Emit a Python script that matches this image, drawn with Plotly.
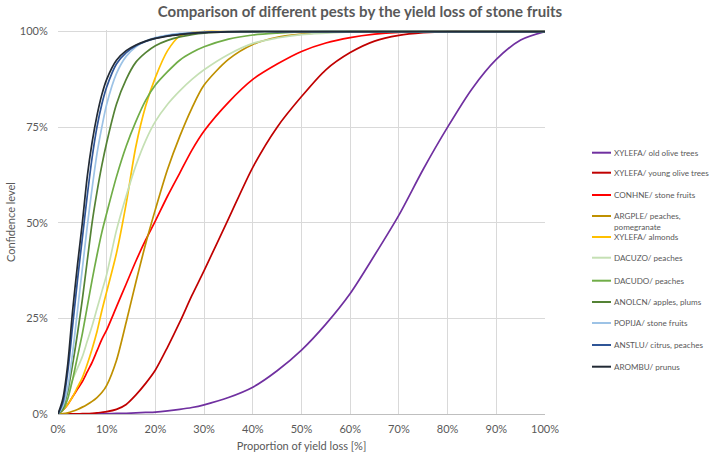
import plotly.graph_objects as go

# Proportion of yield loss [%] (shared x grid)
x_loss = [0, 1, 2, 3, 4, 5, 6, 7, 8, 9, 10, 12, 14, 16, 18, 20, 22.5, 25, 27.5, 30,
          35, 40, 45, 50, 55, 60, 65, 70, 75, 80, 85, 90, 95, 100]

# Confidence level [%] per pest
xylefa_old = [0, 0, 0, 0, 0, 0, 0.02, 0.04, 0.06, 0.08, 0.1, 0.15, 0.2, 0.3, 0.4, 0.5, 0.8, 1.2, 1.7, 2.4,
              4.3, 7, 11.3, 16.7, 23.5, 31.5, 41.5, 52, 64, 75, 85, 92.7, 97.8, 100]
xylefa_young = [0, 0, 0, 0.02, 0.04, 0.08, 0.12, 0.2, 0.3, 0.45, 0.6, 1.2, 2.5, 5, 8, 11.5, 17.5, 24, 31, 37.5,
                51, 64.5, 75, 83, 90, 94.5, 97.5, 99, 99.7, 100, 100, 100, 100, 100]
conhne = [0, 1, 2.5, 4.5, 6.5, 8.5, 11, 13.5, 16.5, 19.5, 22, 28, 34, 40, 45.5, 50.5, 57, 63, 69, 74,
          81.5, 87.5, 91.5, 94.8, 97, 98.4, 99.3, 99.8, 100, 100, 100, 100, 100, 100]
argple = [0, 0.1, 0.3, 0.7, 1.2, 1.8, 2.5, 3.3, 4.3, 5.6, 7.5, 14, 24, 34.5, 44.5, 53.5, 64, 72.6, 80, 86,
          92.7, 96.6, 98.5, 99.3, 99.8, 100, 100, 100, 100, 100, 100, 100, 100, 100]
xylefa_almonds = [0, 1, 2.5, 4.5, 7, 9.5, 13, 17, 21.5, 27, 32, 42, 55, 70, 80.5, 88, 95, 98.8, 99.7, 100,
                  100, 100, 100, 100, 100, 100, 100, 100, 100, 100, 100, 100, 100, 100]
dacuzo = [0, 2.5, 5.5, 9, 12, 15, 19, 23, 27.5, 32, 36.5, 48, 57, 65, 71.5, 76.5, 81, 84.5, 87.5, 90,
          94, 96.9, 98.3, 99.2, 99.6, 99.9, 100, 100, 100, 100, 100, 100, 100, 100]
dacudo = [0, 1, 4, 9, 15, 21, 28, 35, 41.5, 47.5, 52.5, 62, 70, 76.5, 82, 86, 89.5, 92.5, 94.5, 96,
          98, 99.1, 99.6, 99.9, 100, 100, 100, 100, 100, 100, 100, 100, 100, 100]
anolcn = [0, 1.5, 6, 13, 21, 30, 40, 50, 58, 65, 71, 81, 87.5, 92, 94.5, 96.3, 97.7, 98.6, 99.2, 99.6,
          99.9, 100, 100, 100, 100, 100, 100, 100, 100, 100, 100, 100, 100, 100]
popija = [0, 2, 7, 16, 27, 38, 49, 59, 68, 75, 81, 89, 93.5, 96, 97.5, 98.4, 99.1, 99.5, 99.7, 99.85,
          100, 100, 100, 100, 100, 100, 100, 100, 100, 100, 100, 100, 100, 100]
anstlu = [0, 3, 11, 23, 35, 46, 57, 67, 75, 81, 85.5, 91.5, 94.5, 96.3, 97.4, 98.2, 98.9, 99.3, 99.6, 99.8,
          99.95, 100, 100, 100, 100, 100, 100, 100, 100, 100, 100, 100, 100, 100]
arombu = [0, 4, 13, 27, 39, 50, 62, 71, 78, 83.5, 87.5, 92.5, 95, 96.5, 97.5, 98.2, 98.8, 99.2, 99.5, 99.7,
          99.9, 100, 100, 100, 100, 100, 100, 100, 100, 100, 100, 100, 100, 100]

series_names = [
    "XYLEFA/ old olive trees",
    "XYLEFA/ young olive trees",
    "CONHNE/ stone fruits",
    "ARGPLE/ peaches,<br>pomegranate",
    "XYLEFA/ almonds",
    "DACUZO/ peaches",
    "DACUDO/ peaches",
    "ANOLCN/ apples, plums",
    "POPIJA/ stone fruits",
    "ANSTLU/ citrus, peaches",
    "AROMBU/ prunus",
]
series_values = [xylefa_old, xylefa_young, conhne, argple, xylefa_almonds, dacuzo,
                 dacudo, anolcn, popija, anstlu, arombu]
series_colors = ["#7030A0", "#C00000", "#FF0000", "#BF9000", "#FFC000", "#C5E0B4",
                 "#70AD47", "#548235", "#9DC3E6", "#2F5597", "#222A35"]

x_ticks = [0, 10, 20, 30, 40, 50, 60, 70, 80, 90, 100]
y_ticks = [0, 25, 50, 75, 100]

W, H = 709, 456
ML, MT = 58, 30
MR = W - 545
MB = H - 414
PW, PH = W - ML - MR, H - MT - MB

fig = go.Figure()
for name, vals, col in zip(series_names, series_values, series_colors):
    fig.add_trace(go.Scatter(
        x=x_loss, y=vals, name=name.replace("<br>", " "), mode="lines",
        line=dict(color=col, width=1.7, shape="spline", smoothing=0.8),
        showlegend=False,
    ))

font_family = "Lato, Carlito, 'Open Sans', sans-serif"
grey = "#595959"

# custom legend (pixel rows of the legend entries, converted to paper coords)
legend_text_px = [152.7, 172.7, 195, 221.3, 237, 257.7, 280.7, 302, 323, 345, 366.7]
legend_line_px = [152.7, 172.7, 195, 216, 237, 257.7, 280.7, 302, 323, 345, 366.7]
x_line0 = (592 - ML) / PW
x_line1 = (611 - ML) / PW
x_text = (612 - ML) / PW
shapes, annotations = [], []
for name, col, ty, ly in zip(series_names, series_colors, legend_text_px, legend_line_px):
    yl = (H - MB - ly) / PH
    yt = (H - MB - ty) / PH
    shapes.append(dict(type="line", xref="paper", yref="paper", x0=x_line0, x1=x_line1,
                       y0=yl, y1=yl, line=dict(color=col, width=2)))
    annotations.append(dict(xref="paper", yref="paper", x=x_text, y=yt, xanchor="left",
                            yanchor="middle", align="left", showarrow=False, text=name,
                            font=dict(size=8.1, color=grey, family=font_family)))

fig.update_layout(
    width=W, height=H,
    margin=dict(l=ML, r=MR, t=MT, b=MB, autoexpand=False),
    paper_bgcolor="white", plot_bgcolor="white",
    font=dict(family=font_family, color=grey, size=11),
    title=dict(text="<b>Comparison of different pests by the yield loss of stone fruits</b>",
               x=(360 - ML) / PW, xref="paper", xanchor="center",
               y=1 - 12 / H, yanchor="middle",
               font=dict(size=15, color=grey, family=font_family)),
    showlegend=False,
    shapes=shapes,
    annotations=annotations,
)
fig.update_xaxes(
    range=[0, 100], tickvals=x_ticks, ticktext=[f"{v}%" for v in x_ticks],
    showgrid=True, gridcolor="#D9D9D9", gridwidth=1,
    showline=True, linecolor="#BFBFBF", linewidth=1,
    zeroline=False, ticks="outside", ticklen=5, tickcolor="rgba(0,0,0,0)",
    tickfont=dict(size=11, color=grey), automargin=False,
    title=dict(text="Proportion of yield loss [%]", font=dict(size=11, color=grey), standoff=8),
)
fig.update_yaxes(
    range=[0, 100.4], tickvals=y_ticks, ticktext=[f"{v}%" for v in y_ticks],
    showgrid=True, gridcolor="#D9D9D9", gridwidth=1,
    showline=False, zeroline=False, ticks="outside", ticklen=7, tickcolor="rgba(0,0,0,0)",
    tickfont=dict(size=11, color=grey), automargin=False,
    title=dict(text="Confidence level", font=dict(size=11, color=grey), standoff=1),
)

# remove the browser's default 8px body margin so the figure sits at the window corner
fig.write_html("out.html", config={"displayModeBar": False},
               post_script="document.body.style.margin='0';")
